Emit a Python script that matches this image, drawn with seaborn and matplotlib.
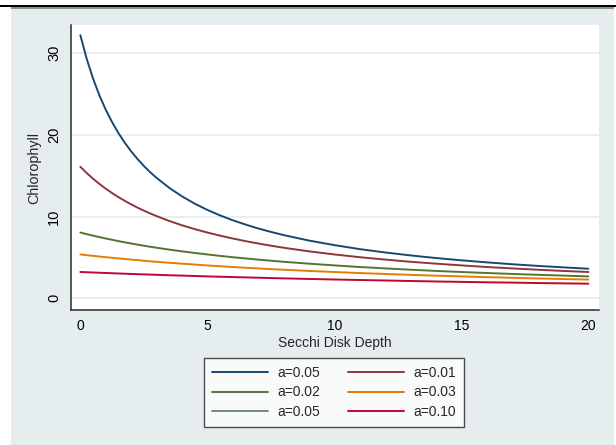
import numpy as np
import pandas as pd
import matplotlib
matplotlib.use("Agg")
import matplotlib.pyplot as plt
from matplotlib.lines import Line2D
from matplotlib.patches import Rectangle
import seaborn as sns

# ---- data ----
depth = [0, 0.25, 0.5, 0.75, 1, 1.25, 1.5, 1.75, 2, 2.25, 2.5, 2.75, 3, 3.5, 4, 4.5,
         5, 5.5, 6, 6.5, 7, 7.5, 8, 9, 10, 11, 12, 13, 14, 15, 16, 17, 18, 19, 20]
chl_s1 = [32.2, 29.31, 26.89, 24.84, 23.08, 21.56, 20.22, 19.04, 17.99, 17.05, 16.20,
          15.43, 14.74, 13.52, 12.48, 11.59, 10.82, 10.15, 9.55, 9.03, 8.55, 8.13,
          7.74, 7.07, 6.51, 6.02, 5.61, 5.25, 4.93, 4.65, 4.40, 4.17, 3.97, 3.79, 3.62]
chl_s2 = [16.1, 15.33, 14.64, 14.00, 13.42, 12.88, 12.38, 11.93, 11.50, 11.10, 10.73,
          10.39, 10.06, 9.47, 8.94, 8.47, 8.05, 7.67, 7.32, 7.00, 6.71, 6.44,
          6.19, 5.75, 5.37, 5.03, 4.74, 4.47, 4.24, 4.03, 3.83, 3.66, 3.50, 3.35, 3.22]
chl_s3 = [8.05, 7.85, 7.67, 7.49, 7.32, 7.16, 7.00, 6.85, 6.71, 6.57, 6.44,
          6.31, 6.19, 5.96, 5.75, 5.55, 5.37, 5.19, 5.03, 4.88, 4.74, 4.60,
          4.47, 4.24, 4.03, 3.83, 3.66, 3.50, 3.35, 3.22, 3.10, 2.98, 2.88, 2.78, 2.68]
chl_s4 = [5.37, 5.28, 5.20, 5.11, 5.03, 4.96, 4.88, 4.81, 4.74, 4.67, 4.60,
          4.53, 4.47, 4.35, 4.24, 4.13, 4.02, 3.92, 3.83, 3.74, 3.66, 3.57,
          3.50, 3.35, 3.22, 3.09, 2.98, 2.87, 2.77, 2.68, 2.59, 2.51, 2.43, 2.36, 2.29]
chl_s6 = [3.22, 3.19, 3.16, 3.13, 3.10, 3.07, 3.04, 3.01, 2.98, 2.95, 2.93,
          2.90, 2.88, 2.82, 2.78, 2.73, 2.68, 2.64, 2.60, 2.56, 2.52, 2.48,
          2.44, 2.37, 2.30, 2.24, 2.18, 2.12, 2.06, 2.01, 1.96, 1.92, 1.87, 1.83, 1.79]

series_ids = ["s1", "s2", "s3", "s4", "s5", "s6"]
series_labels = ["a=0.05", "a=0.01", "a=0.02", "a=0.03", "a=0.05", "a=0.10"]
series_colors = ["#1a476f", "#90353b", "#55752f", "#e37e00", "#6e8e84", "#c10534"]
drawn = {"s1": chl_s1, "s2": chl_s2, "s3": chl_s3, "s4": chl_s4, "s6": chl_s6}

x_ticks = [0, 5, 10, 15, 20]
y_ticks = [0, 10, 20, 30]
x_title = "Secchi Disk Depth"
y_title = "Chlorophyll"

rows = []
for sid, vals in drawn.items():
    for xv, yv in zip(depth, vals):
        rows.append({"depth": xv, "chl": yv, "series": sid})
df = pd.DataFrame(rows)

# ---- figure ----
sns.set_style("white")
plt.rcParams["font.family"] = ["Liberation Sans", "DejaVu Sans"]
plt.rcParams["font.size"] = 10

W, H = 616, 445
fig = plt.figure(figsize=(W / 100, H / 100), dpi=100)
fig.patch.set_facecolor("white")

def fx(px):
    return px / W

def fy(py):
    return 1 - py / H

bg = "#e5edef"
fig.add_artist(Rectangle((fx(11), 0), fx(614) - fx(11), fy(9.3), transform=fig.transFigure,
                         facecolor=bg, edgecolor="none", zorder=-10))
fig.add_artist(Rectangle((fx(11), fy(9.3)), fx(614) - fx(11), fy(6.7) - fy(9.3),
                         transform=fig.transFigure, facecolor="#8e9295", edgecolor="none", zorder=-9))
fig.add_artist(Rectangle((0, fy(6.7)), 1, fy(4.9) - fy(6.7), transform=fig.transFigure,
                         facecolor="black", edgecolor="none", zorder=-8))

left, right, top, bottom = 70.7, 599, 25, 310.4
ax = fig.add_axes([fx(left), fy(bottom), fx(right) - fx(left), fy(top) - fy(bottom)])
ax.set_facecolor("white")

palette = {sid: c for sid, c in zip(series_ids, series_colors)}
sns.lineplot(data=df, x="depth", y="chl", hue="series", palette=palette,
             hue_order=[s for s in series_ids if s in drawn], legend=False,
             linewidth=1.4, ax=ax, zorder=3)

ax.set_xlim(-0.38, 20.42)
ax.set_ylim(-1.48, 33.45)
ax.set_xticks(x_ticks)
ax.set_yticks(y_ticks)
ax.set_xticklabels([str(t) for t in x_ticks])
ax.set_yticklabels([str(t) for t in y_ticks], rotation=90, va="center", fontsize=10.5)

for y in y_ticks:
    ax.axhline(y, color="#e6eef0", linewidth=1.4, zorder=1)

for s in ["top", "right"]:
    ax.spines[s].set_visible(False)
for s in ["left", "bottom"]:
    ax.spines[s].set_color("#2b2b2b")
    ax.spines[s].set_linewidth(1.1)

ax.tick_params(axis="both", direction="out", length=4, width=1.0, color="#2b2b2b",
               labelcolor="black")
ax.tick_params(axis="x", labelsize=10, pad=2.5)
ax.tick_params(axis="y", labelsize=10.5, pad=3)
ax.set_xlabel(x_title, fontsize=10, labelpad=2)
ax.set_ylabel(y_title, fontsize=10.3, labelpad=4)

# legend in Stata row-wise order
handles = [Line2D([0], [0], color=c, linewidth=1.4) for c in series_colors]
order = [0, 2, 4, 1, 3, 5]
leg = fig.legend([handles[i] for i in order], [series_labels[i] for i in order],
                 loc="center", bbox_to_anchor=(fx(334), fy(392.5)), ncol=2,
                 fontsize=10, frameon=True, fancybox=False, handlelength=4.0,
                 handletextpad=0.7, columnspacing=2.0, labelspacing=0.4,
                 borderpad=0.55)
leg.get_frame().set_edgecolor("#222222")
leg.get_frame().set_linewidth(1.0)
leg.get_frame().set_facecolor("white")

fig.savefig("out.png", dpi=100)
